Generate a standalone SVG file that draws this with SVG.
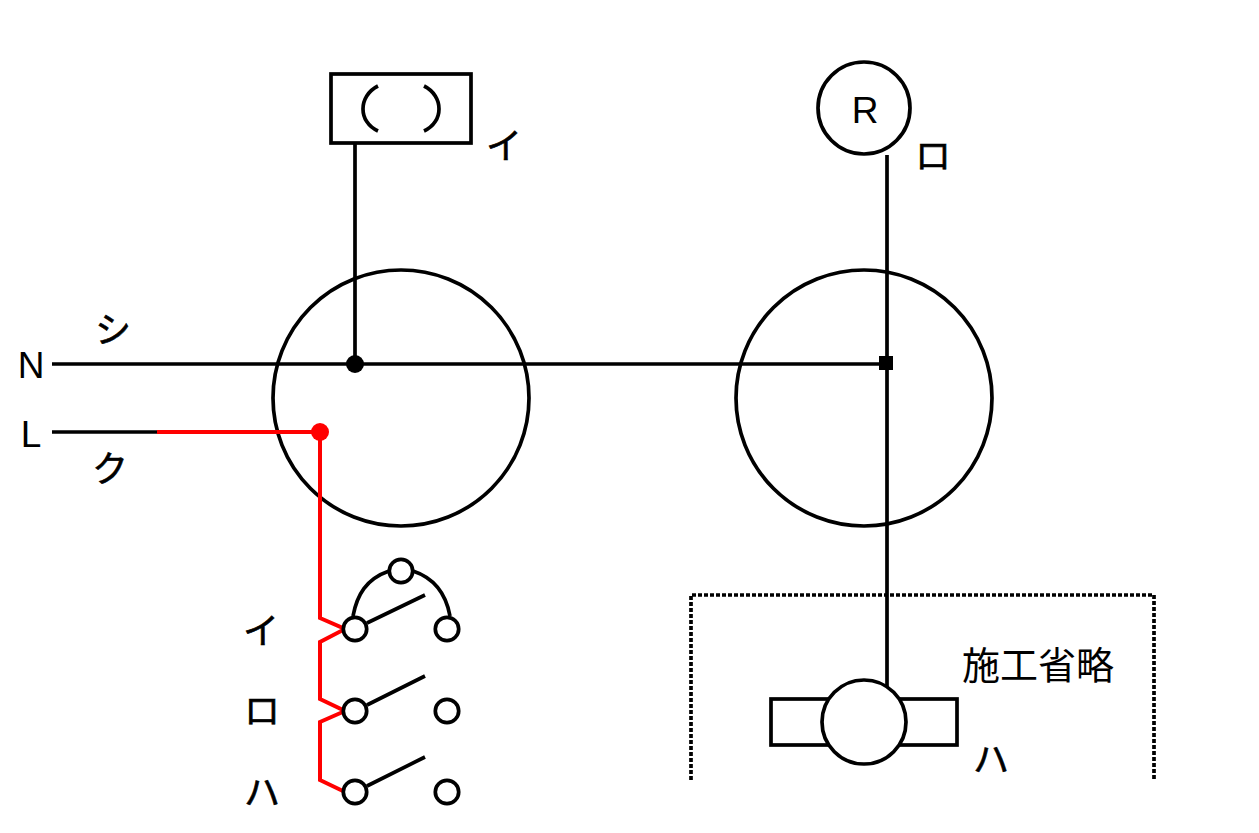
<svg xmlns="http://www.w3.org/2000/svg" width="1259" height="833" viewBox="0 0 1259 833">
<style>
.s{fill:none;stroke:#000;stroke-width:3.7}
.w{fill:#fff;stroke:#000;stroke-width:3.7}
.r{fill:none;stroke:#f00;stroke-width:4;stroke-linejoin:miter}
.t{font-family:"Noto Sans CJK JP","Liberation Sans",sans-serif;font-size:36px;fill:#000;stroke:#000;stroke-width:.6;text-anchor:middle}
.g{font-family:"Noto Sans CJK JP","Liberation Sans",sans-serif;font-size:38px;fill:#000;text-anchor:middle}
.l{font-family:"Liberation Sans",sans-serif;font-size:37px;fill:#000;text-anchor:middle}
</style>
<rect width="1259" height="833" fill="#fff"/>
<g id="junction-box-left"><circle class="s" cx="401" cy="398" r="128"/></g>
<g id="junction-box-right"><circle class="s" cx="864" cy="398" r="128"/></g>
<g id="connectors">
<path class="s" d="M355 143V364M52 364H886M887 155V690M52 432H158"/>
<path class="r" d="M157 432H320V618L345 629L320 642V699L345 711L320 722V780L345 792"/>
<path class="s" d="M367 623L425 595M367 705L425 676M367 786L425 757"/>
<path class="s" d="M353 616C357 595 366 579 389 571M413 571C434 578 446 594 450 616"/>
<circle cx="355" cy="364" r="9" fill="#000"/>
<circle cx="320" cy="432" r="9" fill="#f00"/>
<rect x="879" y="356" width="14" height="14" fill="#000"/>
</g>
<g id="lamp-box"><rect class="w" x="331" y="74" width="140" height="69"/>
<path class="s" d="M378 86C358 96 358 122 378 131M424 86C444 96 444 122 424 131"/></g>
<g id="lamp-r"><circle class="w" cx="864" cy="108" r="46"/><text class="l" x="865" y="123">R</text></g>
<g id="switches">
<circle class="w" cx="401" cy="571" r="11.7"/>
<circle class="w" cx="355" cy="629" r="11.7"/><circle class="w" cx="447" cy="629" r="11.7"/>
<circle class="w" cx="355" cy="711" r="11.7"/><circle class="w" cx="447" cy="711" r="11.7"/>
<circle class="w" cx="355" cy="792" r="11.7"/><circle class="w" cx="447" cy="792" r="11.7"/>
</g>
<g id="construction-omitted">
<path d="M691 780V595H1154V780" fill="none" stroke="#000" stroke-width="3.7" stroke-dasharray="4 2"/>
</g>
<g id="motor">
<rect class="w" x="771" y="699" width="186" height="46"/>
<circle class="w" cx="864" cy="722" r="42"/>
</g>
<g id="labels">
<text class="l" x="31" y="378">N</text>
<text class="l" x="31" y="447">L</text>
<text class="t" x="113" y="343">シ</text>
<text class="t" x="110" y="482">ク</text>
<text class="t" x="504" y="159">イ</text>
<text class="t" x="933" y="169">ロ</text>
<text class="t" x="261" y="644">イ</text>
<text class="t" x="262" y="724">ロ</text>
<text class="t" x="262" y="806">ハ</text>
<text class="t" x="991" y="773">ハ</text>
<text class="g" x="1038" y="679">施工省略</text>
</g>
</svg>
